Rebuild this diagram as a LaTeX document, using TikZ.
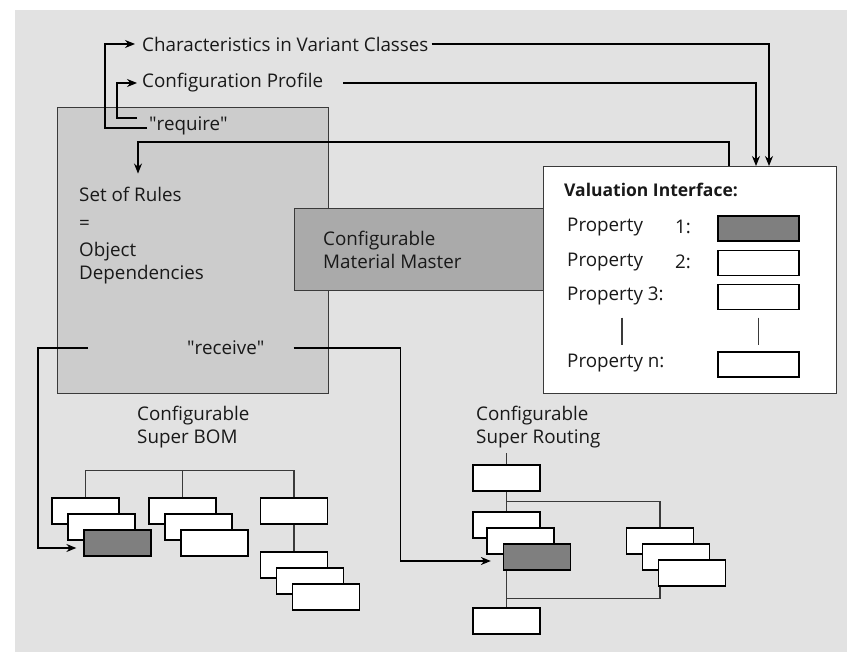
\documentclass[tikz,border=0pt]{standalone}
\usepackage{fontspec}
\setmainfont{Open Sans}
\usetikzlibrary{arrows.meta, positioning, calc}
\definecolor{panelgray}{HTML}{E2E2E2}
\definecolor{rulesgray}{HTML}{CCCCCC}
\definecolor{mastergray}{HTML}{AAAAAA}
\definecolor{fieldgray}{HTML}{7F7F7F}
\definecolor{linegray}{HTML}{3A3A3A}
\newcommand{\lblfont}{\fontsize{18.8}{23}\selectfont}

\tikzset{
  lbl/.style={inner sep=0pt, anchor=west, text=black!90, font=\lblfont, align=left},
  panel/.style={draw=linegray, line width=1.3pt, anchor=north west, inner sep=0pt},
  leaf/.style={draw=black, fill=white, line width=1.3pt, minimum width=67pt, minimum height=26pt, inner sep=0pt},
  leafdark/.style={leaf, fill=fieldgray},
  field/.style={leaf, minimum width=81pt, minimum height=25pt},
  wire/.style={draw=linegray, line width=1.1pt},
  feed/.style={wire, draw=black, -{Stealth[length=10pt, width=8pt]}},
}

\begin{document}
\begin{tikzpicture}[x=1pt, y=-1pt]
  \useasboundingbox (0,0) rectangle (847,652);
  \fill[panelgray] (15,10) rectangle (847,652);

  % rules, material master, valuation
  \node[panel, fill=rulesgray, minimum width=271pt, minimum height=286pt] (rules) at (57,107) {};
  \node[panel, fill=mastergray, minimum width=249pt, minimum height=82pt] (master) at (294,208) {};
  \node[panel, fill=white, minimum width=293pt, minimum height=227pt] (val) at (543,166) {};

  % top labels
  \node[lbl] (chars) at (142,44) {Characteristics in Variant Classes};
  \node[lbl] (prof) at (142,83) {Configuration Profile};
  \node[lbl] (req) at (149,126) {\textquotedbl require\textquotedbl};

  % inside the rules box
  \node[lbl] (sor) at (79,194) {Set of Rules};
  \node[lbl] (eqs) at (79,225) {=};
  \node[lbl] (objdep) at (79,263) {Object\\Dependencies};
  \node[lbl] (recv) at (187,348) {\textquotedbl receive\textquotedbl};
  \node[lbl] (mmtxt) at (323,250) {Configurable\\Material Master};

  % valuation interface
  \node[lbl, font=\fontsize{17.5}{23}\selectfont\bfseries] (valtitle) at (564,190) {Valuation Interface:};
  \node[lbl] (p1) at (567,227) {Property};
  \node[lbl] (n1) at (675,227) {1:};
  \node[lbl] (p2) at (567,262) {Property};
  \node[lbl] (n2) at (675,262) {2:};
  \node[lbl] (p3) at (567,296) {Property 3:};
  \node[lbl] (pn) at (567,363) {Property n:};
  \node[field, fill=fieldgray] (f1) at (758.5,228.5) {};
  \node[field] (f2) at (758.5,263) {};
  \node[field] (f3) at (758.5,297) {};
  \node[field] (fn) at (758.5,364.5) {};
  \draw[wire] (f3.south) ++(0,7.5) -- ++(0,27);
  \draw[wire] (f3.south) ++(-136.5,7.5) -- ++(0,27);

  % super BOM
  \node[lbl] (bomtxt) at (137,427.5) {Configurable\\Super BOM};
  \node[leaf] (b11) at (85.5,511) {};
  \node[leaf] (b12) at (101.5,527) {};
  \node[leafdark] (b13) at (117.5,543) {};
  \node[leaf] (b21) at (182.5,511) {};
  \node[leaf] (b22) at (198.5,527) {};
  \node[leaf] (b23) at (214.5,543) {};
  \node[leaf] (b31) at (294,511) {};
  \node[leaf] (b41) at (294,565) {};
  \node[leaf] (b42) at (310,581) {};
  \node[leaf] (b43) at (326,597) {};
  \draw[wire] (b11.north) -- ++(0,-27) -| (b31.north);
  \draw[wire] (b21.north) -- ++(0,-27);
  \draw[wire] (b31.south) -- (b41.north);

  % super routing
  \node[lbl] (rttxt) at (476,427.5) {Configurable\\Super Routing};
  \node[leaf] (r0) at (506.5,478) {};
  \node[leaf] (r1) at (506.5,525) {};
  \node[leaf] (r2) at (520.5,541) {};
  \node[leafdark] (r3) at (537,557) {};
  \node[leaf] (r4) at (660,541) {};
  \node[leaf] (r5) at (676,557) {};
  \node[leaf] (r6) at (692,573) {};
  \node[leaf] (r7) at (506.5,621) {};
  \draw[wire] (r0.north) -- ++(0,-11);
  \draw[wire] (r0.south) -- (r1.north);
  \draw[wire] (r0.south) ++(0,10) -| (r4.north);
  \draw[wire] (r1.south |- r3.south) -- (r7.north);
  \draw[wire] (r4.south |- r6.south) -- ++(0,12) -| (r7.north);

  % arrows
  \draw[feed] ([shift={(-2,2)}]req.west) -- ++(-42,0) |- ([xshift=-7pt]chars.west);
  \draw[feed] ([shift={(-12,-8)}]req.west) -- ++(-20,0) |- ([xshift=-5pt]prof.west);
  \draw[feed] ([xshift=3pt]chars.east) -| ([xshift=226pt]val.north west);
  \draw[feed] ([xshift=20pt]prof.east) -| ([xshift=213pt]val.north west);
  \draw[feed] ([xshift=186pt]val.north west) -- ++(0,-24) -| ([xshift=59pt,yshift=13pt]sor.north west);
  \draw[feed] ([xshift=-99pt]recv.west) -- ++(-50,0) |- ([shift={(-7,5)}]b13.west);
  \draw[feed] ([xshift=29pt]recv.east) -- ++(107,0) |- ([shift={(-12,4)}]r3.west);
\end{tikzpicture}
\end{document}
